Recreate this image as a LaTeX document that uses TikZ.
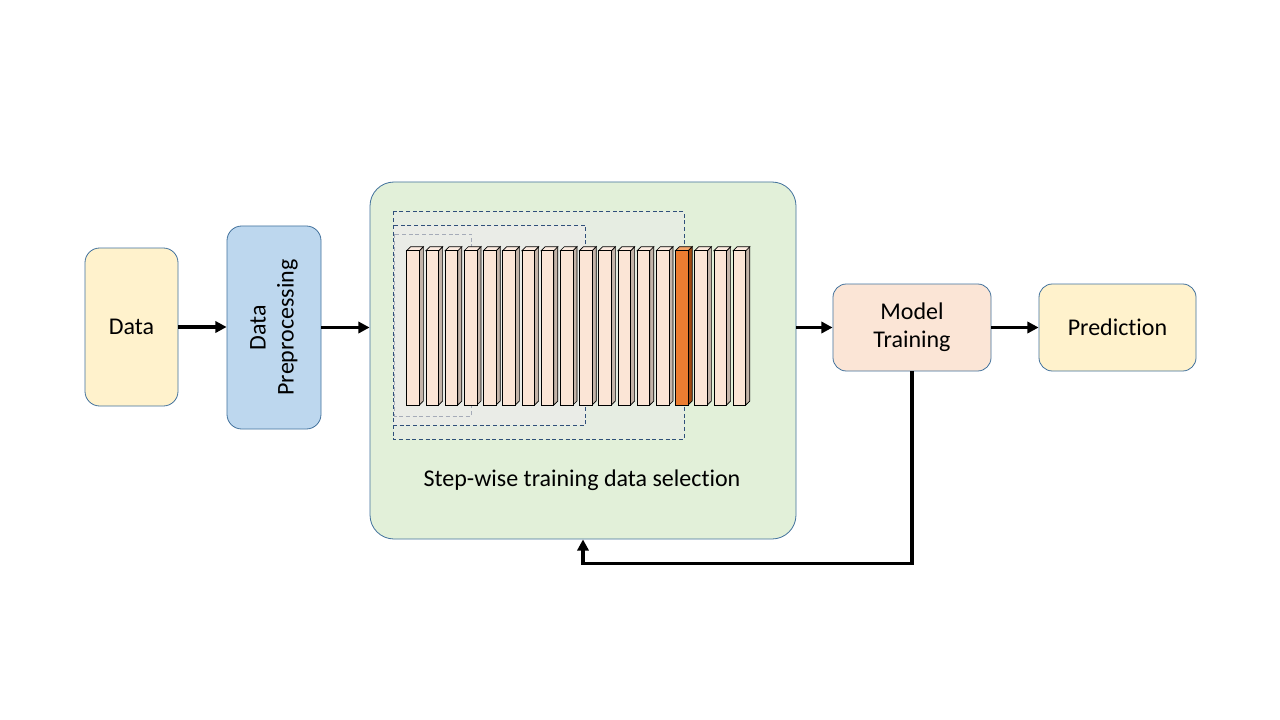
\documentclass[tikz,border=0pt]{standalone}
\usepackage{fontspec}
\setmainfont[Ligatures=NoCommon]{Carlito}
\usetikzlibrary{arrows.meta,positioning,calc}

\definecolor{dataY}{HTML}{FFF2CC}
\definecolor{prepB}{HTML}{BDD7EE}
\definecolor{selG}{HTML}{E2F0D9}
\definecolor{trainO}{HTML}{FBE5D6}
\definecolor{edgeB}{HTML}{41719C}
\definecolor{dashB}{HTML}{2F4F7A}
\definecolor{dashL}{HTML}{A5ABB8}
\definecolor{winA}{HTML}{E6EDE2}
\definecolor{winB}{HTML}{EAECE7}
\definecolor{barSide}{HTML}{C4B4A9}
\definecolor{barTop}{HTML}{FCEBE0}
\definecolor{hotF}{HTML}{ED7D31}
\definecolor{hotS}{HTML}{A04A12}
\definecolor{hotT}{HTML}{F4A46A}

\tikzset{
  box/.style={draw=edgeB, line width=0.6pt, rounded corners=11pt, align=center,
    font=\fontsize{18}{21}\selectfont, inner sep=2pt},
  flow/.style={line width=2.6pt, -{Triangle[length=8.5pt,width=8.5pt]}},
  win/.style={line width=0.7pt, dash pattern=on 3pt off 2pt}
}

\begin{document}
\begin{tikzpicture}[x=0.75pt, y=-0.75pt]
    \useasboundingbox[fill=white] (0,0) rectangle (1280,720);

    % Blocks
    \node[box, fill=dataY, minimum width=69.75pt, minimum height=118.5pt] (data) at (131.5,327) {Data};
    \node[box, fill=prepB, rotate=90, minimum width=152.25pt, minimum height=70.5pt] (prep) at (274,327.5) {Data\\Preprocessing};
    \node[box, fill=selG, rounded corners=18pt, minimum width=319.5pt, minimum height=267.75pt] (sel) at (583,360.5) {};
    \node[box, fill=trainO, rounded corners=10pt, minimum width=118.5pt, minimum height=65.25pt] (train) at (912,327.5) {Model\\Training};
    \node[box, fill=dataY, rounded corners=10pt, minimum width=117.75pt, minimum height=65.25pt] (pred) at (1117.5,327.5) {Prediction};

    % Selection windows
    \draw[win, draw=dashB, fill=winA] (393,211.5) rectangle (684,439);
    \draw[win, draw=dashB, fill=winB] (393,225) rectangle (585.5,425);
    \draw[win, draw=dashL] (394.5,234) rectangle (471.5,416);

    % Data blocks
    \foreach \i in {0,...,17} {
      \pgfmathsetmacro\bx{406.7+19.2*\i}
      \ifnum\i=14
        \def\cf{hotF}\def\cs{hotS}\def\ct{hotT}
      \else
        \def\cf{trainO}\def\cs{barSide}\def\ct{barTop}
      \fi
      \draw[fill=\cs, line width=0.5pt] (\bx+12.7,250.7) -- (\bx+16.7,246.7) -- (\bx+16.7,401) -- (\bx+12.7,405) -- cycle;
      \draw[fill=\ct, line width=0.5pt] (\bx,250.7) -- (\bx+4,246.7) -- (\bx+16.7,246.7) -- (\bx+12.7,250.7) -- cycle;
      \draw[fill=\cf, line width=0.6pt] (\bx,250.7) rectangle (\bx+12.7,405);
    }

    \node[font=\fontsize{18}{21}\selectfont] (selLabel) at (582,480) {Step-wise training data selection};

    % Connections
    \draw[flow] (data.east) -- (data.east -| prep.north);
    \draw[flow] (prep.south) -- (sel.west |- prep.south);
    \draw[flow] (sel.east |- train.west) -- (train.west);
    \draw[flow] (train.east) -- (pred.west);
    \draw[flow] (train.south) |- ([yshift=-18pt]sel.south) -- (sel.south);
\end{tikzpicture}
\end{document}
